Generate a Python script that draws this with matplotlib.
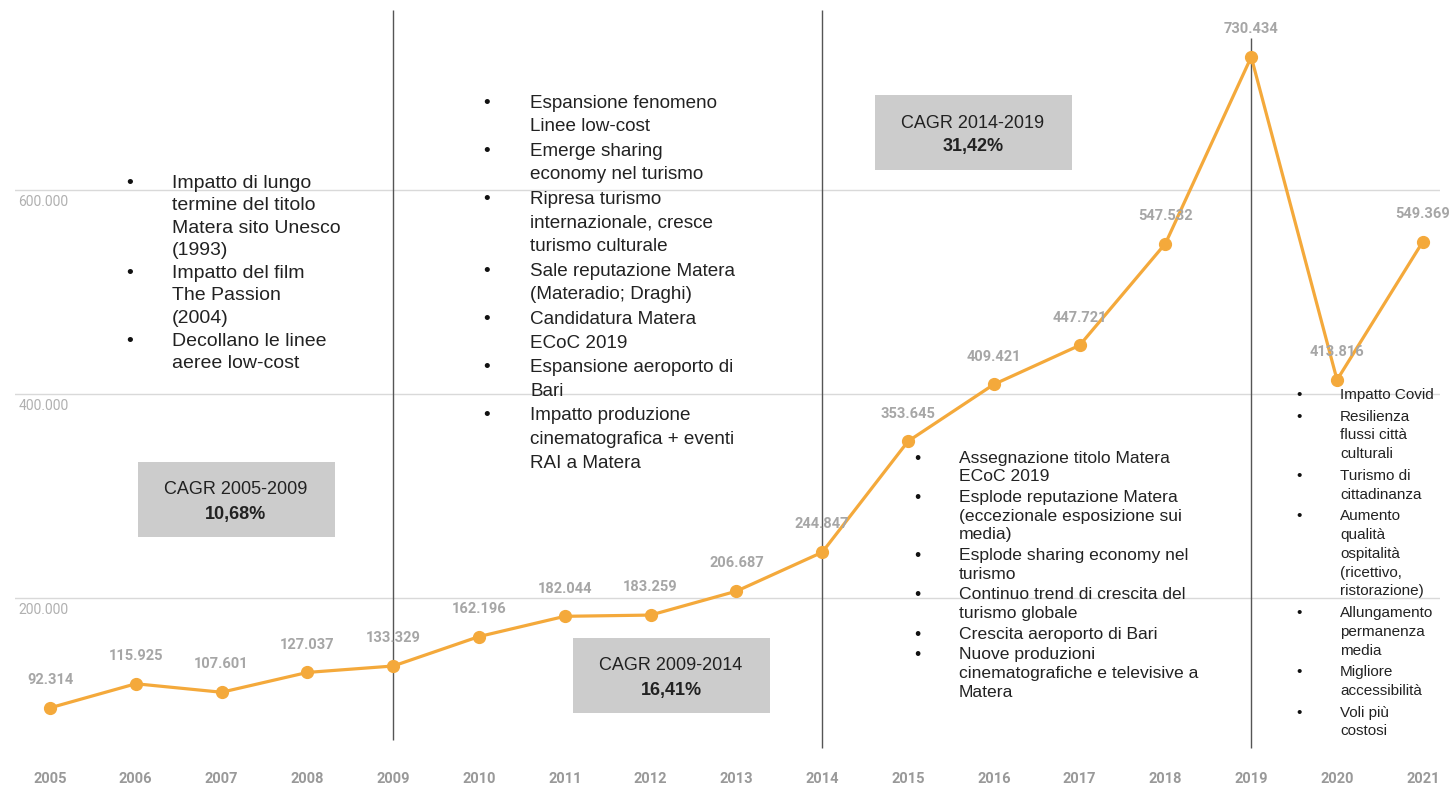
import matplotlib
matplotlib.use("Agg")
import matplotlib.pyplot as plt
from matplotlib.patches import Rectangle

# presenze turistiche Matera
years = list(range(2005, 2022))
presenze = [92314, 115925, 107601, 127037, 133329, 162196, 182044, 183259,
            206687, 244847, 353645, 409421, 447721, 547532, 730434, 413816,
            549369]
value_labels = ["92.314", "115.925", "107.601", "127.037", "133.329", "162.196",
                "182.044", "183.259", "206.687", "244.847", "353.645", "409.421",
                "447.721", "547.532", "730.434", "413.816", "549.369"]
grid_values = [200000, 400000, 600000]
grid_labels = ["200.000", "400.000", "600.000"]
period_breaks = [2009, 2014, 2019]

cagr_titles = ["CAGR 2005-2009", "CAGR 2009-2014", "CAGR 2014-2019"]
cagr_values = ["10,68%", "16,41%", "31,42%"]

notes_2005 = [["Impatto di lungo", "termine del titolo", "Matera sito Unesco", "(1993)"],
              ["Impatto del film", "The Passion", "(2004)"],
              ["Decollano le linee", "aeree low-cost"]]
notes_2009 = [["Espansione fenomeno", "Linee low-cost"],
              ["Emerge sharing", "economy nel turismo"],
              ["Ripresa turismo", "internazionale, cresce", "turismo culturale"],
              ["Sale reputazione Matera", "(Materadio; Draghi)"],
              ["Candidatura Matera", "ECoC 2019"],
              ["Espansione aeroporto di", "Bari"],
              ["Impatto produzione", "cinematografica + eventi", "RAI a Matera"]]
notes_2014 = [["Assegnazione titolo Matera", "ECoC 2019"],
              ["Esplode reputazione Matera", "(eccezionale esposizione sui", "media)"],
              ["Esplode sharing economy nel", "turismo"],
              ["Continuo trend di crescita del", "turismo globale"],
              ["Crescita aeroporto di Bari"],
              ["Nuove produzioni", "cinematografiche e televisive a", "Matera"]]
notes_2019 = [["Impatto Covid"],
              ["Resilienza", "flussi città", "culturali"],
              ["Turismo di", "cittadinanza"],
              ["Aumento", "qualità", "ospitalità", "(ricettivo,", "ristorazione)"],
              ["Allungamento", "permanenza", "media"],
              ["Migliore", "accessibilità"],
              ["Voli più", "costosi"]]

W, H = 1449, 791
fig = plt.figure(figsize=(W / 100, H / 100), dpi=100)

def fx(x):
    return x / W

def fy(y):
    return 1 - y / H

ax = fig.add_axes([fx(15), 41 / H, 1425 / W, 750 / H])
ax.set_xlim(2004.592, 2021.2)
ax.set_ylim(50980, 786275)

ax.set_yticks(grid_values)
ax.set_yticklabels([])
ax.grid(axis="y", color="#d9d9d9", lw=1)
ax.set_axisbelow(True)
for s in ax.spines.values():
    s.set_visible(False)
ax.tick_params(length=0)
ax.set_xticks(years)
ax.set_xticklabels([str(y) for y in years], fontsize=10.5, color="#999999",
                   family="Roboto", fontweight="bold")
ax.tick_params(axis="x", pad=16)

for v, lab in zip(grid_values, grid_labels):
    ax.annotate(lab, (0, v), xycoords=("axes fraction", "data"), xytext=(2.5, -3.5),
                textcoords="offset points", va="top", ha="left", fontsize=10,
                color="#b0b0b0", family="Roboto")

# linee di separazione dei periodi
ax.vlines(period_breaks, [60800, 52900, 52900], [776500, 776500, 749000],
          color="#555555", lw=1, zorder=1)

ax.plot(years, presenze, color="#f4a93b", lw=2.3, marker="o", ms=8.5, zorder=3)
for x, v, lab in zip(years, presenze, value_labels):
    ax.annotate(lab, (x, v), xytext=(0, 20), textcoords="offset points",
                ha="center", va="center", fontsize=10.5, color="#a6a6a6",
                family="Roboto", fontweight="bold")

# riquadri CAGR
boxes = [(138, 462), (573, 638), (875, 95)]
for (bx, by), t, p in zip(boxes, cagr_titles, cagr_values):
    fig.patches.append(Rectangle((fx(bx), fy(by + 75)), 197 / W, 75 / H,
                                 transform=fig.transFigure, color="#cccccc", lw=0))
    fig.text(fx(bx + 98), fy(by + 28), t, ha="center", va="center", fontsize=13,
             color="#222222", family="Liberation Sans")
    fig.text(fx(bx + 98), fy(by + 52), p, ha="center", va="center", fontsize=13,
             color="#222222", family="Liberation Sans", fontweight="bold")

def bullets(items, xb, xt, y0, line_h, gap, fs):
    y = y0
    for item in items:
        fig.text(fx(xb), fy(y), "•", ha="center", va="center", fontsize=fs,
                 color="#111111", family="Liberation Sans")
        for line in item:
            fig.text(fx(xt), fy(y), line, ha="left", va="center", fontsize=fs,
                     color="#222222", family="Liberation Sans")
            y += line_h
        y += gap

bullets(notes_2005, 130, 172, 183, 22.6, 0, 14)
bullets(notes_2009, 487, 530, 103, 23.6, 1, 13.6)
bullets(notes_2014, 917, 959, 458, 18.8, 1.8, 12.6)
bullets(notes_2019, 1299, 1340, 395, 18.8, 2.8, 11)

fig.savefig("out.png", dpi=100)
